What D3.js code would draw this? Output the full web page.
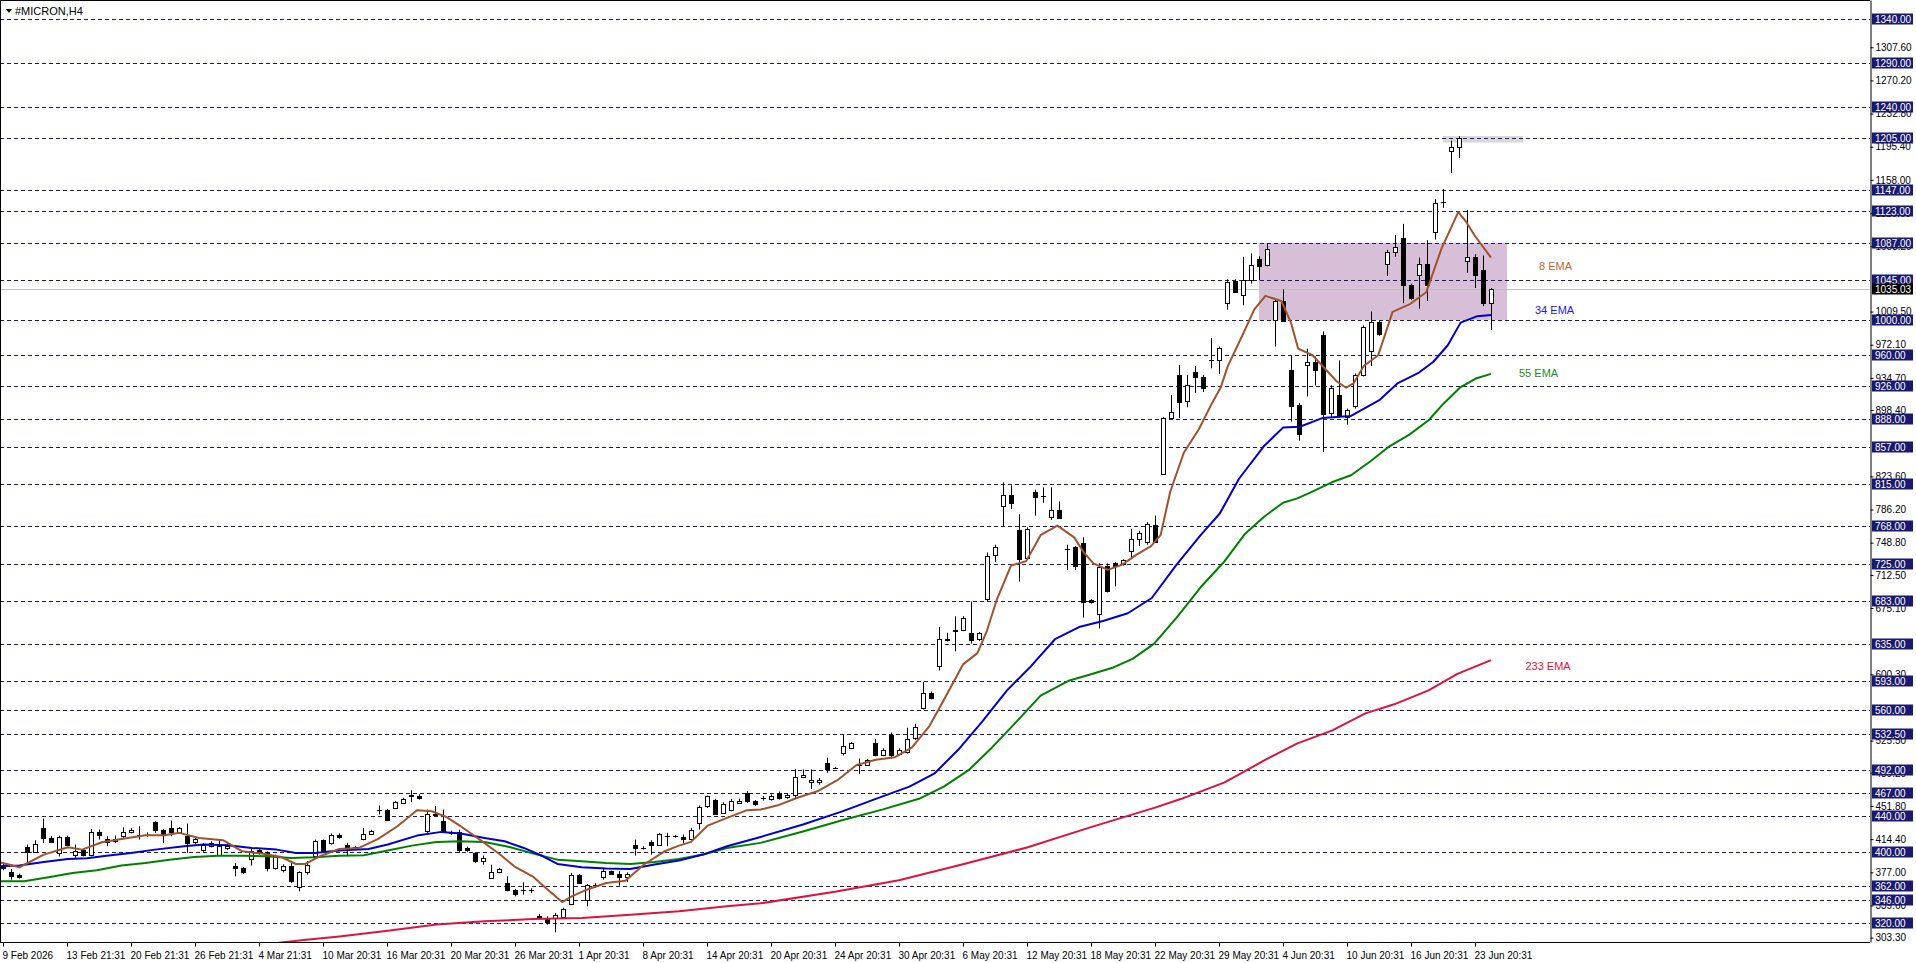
<!DOCTYPE html>
<html>
<head>
<meta charset="utf-8">
<script src="https://cdn.jsdelivr.net/npm/d3@7"></script>
<style>
  body { margin: 0; background: #ffffff; }
  svg { display: block; font-family: "Liberation Sans", Arial, sans-serif; }
</style>
</head>
<body>
<div id="chart"></div>
<script>
// horizontal price levels drawn as dashed lines with a label on the axis
var priceLevels = [1340, 1290, 1240, 1205, 1147, 1123, 1087, 1045, 1000, 960, 926, 888, 857, 815,
                   768, 725, 683, 635, 593, 560, 532.5, 492, 467, 440, 400, 362, 346, 320];

// plain price scale ticks of the terminal (the ones not hidden by level labels)
var axisTicks = [1307.6, 1270.2, 1232.8, 1195.4, 1158.0, 1120.6, 1083.2, 1009.5, 972.1,
                 934.7, 898.4, 823.6, 786.2, 748.8, 712.5, 675.1, 600.3,
                 525.5, 489.2, 451.8, 414.4, 377.0, 339.6, 303.3];

var timeLabels = ["9 Feb 2026", "13 Feb 21:31", "20 Feb 21:31", "26 Feb 21:31", "4 Mar 21:31",
                  "10 Mar 20:31", "16 Mar 20:31", "20 Mar 20:31", "26 Mar 20:31", "1 Apr 20:31",
                  "8 Apr 20:31", "14 Apr 20:31", "20 Apr 20:31", "24 Apr 20:31", "30 Apr 20:31",
                  "6 May 20:31", "12 May 20:31", "18 May 20:31", "22 May 20:31", "29 May 20:31",
                  "4 Jun 20:31", "10 Jun 20:31", "16 Jun 20:31", "23 Jun 20:31"];
var timeLabelBars = [0, 8, 16, 24, 32, 40, 48, 56, 64, 72, 80, 88, 96, 104, 112, 120, 128, 136,
                     144, 152, 160, 168, 176, 184];

// H4 candles, one entry per bar
var opens = [385,377,374.4,405.6,400,427.1,416.2,398.9,416.9,397,401.9,397,422.6,414.7,412,417.7,422.6,418.8,419.2,433.5,
  425.2,427.1,422.6,417.7,410.9,401.9,407.1,397,404.1,384.5,381.9,392.1,402.6,399.6,381.9,379.3,383.8,360.5,377,395.8,
  413.2,410.2,419.6,407.9,405.6,414.7,420.3,447.6,447.8,449.7,455.3,463.5,463.6,423.3,442.2,435.4,421.8,422.6,404.5,398.9,
  389.5,370.6,377,365,357.4,357.3,356.8,328.1,324.3,325.4,326.6,341.6,374,345.4,362.7,371.4,378.2,375.5,371.8,407.9,
  404.5,410.9,407.9,417.7,417.8,416.6,414.7,432.8,451.6,459.1,444.1,447.1,455.3,466.6,457.2,460.5,459.5,466,462,463.8,
  484.3,478.5,478.5,500.5,494.6,511.7,517.6,498.5,498,522.5,509.3,532.3,510.3,512.7,528.4,562.6,579.7,609.5,639,649.7,
  650.6,646.7,639.9,684.9,735.3,790,802.3,763.2,731.3,806.2,801.3,777.8,785.1,741.6,743.6,748.5,683.9,668.3,723,725.5,
  724.5,739.2,752.4,749.9,768.5,826.7,889.3,938.2,908.9,941.7,935.3,954.9,954.4,1018.9,1044.4,1028.7,1044.9,1068.8,1061.5,1000.4,
  1021.4,943.1,904,949,952.9,983.2,895.2,915.2,890.3,903,938.2,965.1,997.9,1063,1076.2,1092.3,1039.5,1050.7,1063,1098.7,
  1132.9,1190.6,1195,1066.4,1071.3,1056.6,1018.9];
var highs = [387.6,380.8,375.5,408.3,413.2,437.6,418,418.4,418.4,408.3,403.4,425.9,425.2,417.7,418.5,427.8,427,429,422,434.6,
  426,435.4,428,432,416,410,412,413.9,410,387.6,383,403.4,404,400.7,397,386,387.6,378,389.5,413.9,
  414,420.7,421,410.2,407,427.1,425,452.3,448.5,457.2,461,469.6,465,447.8,451.6,447.8,424,425.2,406,399.6,
  395.8,385.7,382,372.5,358.2,365.7,359,330,327.3,331.1,337,376.3,375,363.8,365,380.8,379,378.2,377,413.9,
  406.4,413.2,421.5,421.5,419,419.6,427.1,452.3,463.6,459.9,456,459.9,460,468.5,458.5,463,465,468,466,493.2,
  493,493,483.4,506.3,496,532.3,524,505.4,505,527.4,517,534.7,517,540,544.5,591.9,581,653.6,647.2,665.8,
  666,682.4,648,737.7,746.5,816.9,813.5,780.8,766,808.6,811.1,811.1,795.4,746.5,745,754.8,685,725.5,725.5,727,
  730,764.6,762.2,771.9,779.3,890.3,915.2,949,938.2,948,938.2,979.8,970,1045.8,1045.8,1071.3,1075.2,1071.8,1086.4,1022.4,
  1034.6,960.2,906.4,967.6,958.8,987.1,926.5,954.4,900.1,939.7,994,1009.6,999.4,1079.1,1095.7,1108.4,1041,1070.3,1089.9,1136.3,
  1147.6,1202.3,1207.2,1124.1,1074.2,1072.7,1036];
var lows = [379.3,368.7,370,387.6,399,410.2,410,395.1,406.4,393.2,395,395.1,413.9,406.4,410,415.8,421,413.9,417,421.5,
  410.2,417.7,421,398.9,409,400,405,395.1,402,372.5,375,384.5,397,378.1,380,377,365,355.5,374.4,395.1,
  399,408.3,415,395.1,402,413.2,419,442.2,435.4,448.6,454,456.1,459,421.5,440.3,421.5,419,398.9,400,387.6,
  385.7,369.5,376,355.5,349.9,351.8,353.7,324,317.9,309.3,325.5,340.5,364,338.6,359.3,368.7,374,361.9,366,395.8,
  402.6,397,407.1,406.4,416,408.3,413.9,425.2,449.7,442.2,443,445.9,454,455.3,452,458,458,459,460,459.9,
  483.4,471,476,489.2,493.5,508.8,516,488,497,507.8,508,505.4,509,511,526.4,560.6,572,604.7,637.4,626.2,
  649,635,638,682.9,727,767,786.6,704.9,730,779.3,793.9,774.4,775.9,718.1,718.1,664.3,680,652.1,692.7,699.5,
  723,731.9,745,746.5,748.5,826.7,888.3,889.3,901.5,917.7,918.7,945.6,939.2,1011.6,1031.2,1016.5,1041,1044.9,1060.5,970,
  998,885.4,863.9,913.8,926,851.2,889.3,890.3,882,900.1,936.3,948,982.2,1049.7,1071.3,1018.9,1022.4,1012.6,1021.4,1090.8,
  1126.5,1165.7,1182.8,1053.2,1036.1,1015.5,988.6];
var closes = [382,373.3,371.4,400.4,409,415.4,410.9,416.9,408.3,400.7,397,422.2,419.2,410.9,415,422.6,425.2,419.2,419.5,424.5,
  419.6,422.6,427.1,410.2,414.3,408.3,410.2,407.1,406.4,381.9,377,400.7,398.9,381.5,395.1,383.8,367.6,377,385.7,412.4,
  400,419.6,416.6,404.5,403.4,420.3,424.1,447.8,436.5,456.1,459.9,463.7,460.6,442.9,442.4,423.3,421.3,401.9,401.9,389.5,
  393.2,377,380.8,356.7,352.9,357.1,356.6,325.4,320.5,329.2,335.6,374,365,362.3,362.9,378.2,375.5,371.8,375.5,404.1,
  404.6,407.9,420.3,417.9,417.6,414.7,425.2,450.8,462.9,443.3,454.2,457.6,458,457.2,453.5,461,463,461,464,484.3,
  487,481,481,493.2,494.8,519.1,522.5,498,503.9,508.8,515.2,508.8,515.2,527.4,540.6,579.7,573.8,639.9,640,650.2,
  664.3,638.9,646.7,733.8,744.1,802.3,793.9,730.4,764.6,800.3,801.5,785.1,776.8,741.8,723,681.4,681.4,721.6,694.7,723,
  728.9,753.4,759.7,769.5,749.9,889.3,896.7,907.9,927,935.8,923.6,955.4,968.6,1042.4,1032.1,1044.9,1062.5,1060.5,1080.1,1021.4,
  999.4,902.5,871.2,952.9,944.1,894.2,923.6,891.8,898.1,938.2,992,997.9,984.2,1076.2,1082,1040,1025.3,1063,1040,1132.4,
  1133.2,1195,1204.8,1071.3,1050.7,1018.9,1035.03];

// moving averages, as [bar, price]
var ema8 = [[-0.4,388.3],[2.05,382.7],[5.1,397],[8.1,405.3],[9.9,402.6],[12.35,410.9],[14.8,414.7],[17.8,418.8],
  [20.2,418.8],[22.05,421.5],[24.5,415.8],[27.5,413.2],[29.9,400.7],[32.35,398.1],[34.8,394.3],[36.6,386.4],
  [37.8,386.4],[39.6,395.1],[42.05,403.4],[44.5,404.5],[46.9,414.7],[49.3,429],[51.75,447.1],[53.6,445.9],
  [55.4,439.5],[57.2,429],[59.6,413.9],[62.05,397.7],[63.9,383.8],[66.3,371.8],[68.1,357.4],[69.9,343.5],
  [71.1,349.9],[72.96,357.4],[75.4,365],[77.8,367.6],[80.2,386.4],[82.7,400.7],[84.5,407.1],[86,411.3],
  [88.1,429.7],[90.5,438.4],[93,447.1],[94.7,447.8],[97,453],[99.4,461.4],[101.8,468.4],[104.3,480.9],
  [106.7,498],[109.1,503.9],[111.5,506.9],[113.6,517.6],[115.8,542],[117.6,571.4],[120,611.5],[121.8,624.2],
  [123,649.7],[124.2,683.9],[126,723],[127.9,728],[129.7,757.3],[131.8,768],[133.9,754.8],[135.1,737.7],
  [136.3,725.5],[138.1,718.1],[139.9,724],[141.7,735.3],[143.5,745],[144.7,757.3],[145.9,806.2],[147.6,850.2],
  [149.5,877.1],[151,904],[152.2,923.6],[153.1,948],[154.9,982.2],[156.4,1011.6],[157.8,1027.2],[159.8,1021.4],
  [161,996.9],[161.9,967.6],[163.7,960.2],[165.2,945.6],[166.7,930.9],[167.9,923.6],[168.8,928.4],[170.1,948],
  [171.9,960.2],[173.7,1009.1],[175.8,1017.5],[177.9,1031.2],[179.8,1080.1],[181.9,1121.6],[182.8,1111.9],
  [184,1094.7],[186,1070.3]];
var ema34 = [[-0.4,383.8],[2.05,384.6],[5.1,388.7],[8.1,392.1],[10.5,392.8],[12.96,395.8],[16,398.9],[19,402.6],
  [22.65,406.4],[25.1,408.3],[28.1,407.5],[31.1,404.5],[34.2,402.6],[36.6,398.9],[39,398.9],[42.05,401.5],
  [45.7,403.4],[48.1,408.3],[51.75,418.4],[54.8,422.6],[57.2,420.7],[60.2,415.8],[62.7,412],[65.1,404.5],
  [67.5,395.1],[69.3,386.4],[72.35,382.7],[75.4,381.2],[78.4,380.8],[81.45,385.7],[84.5,390.2],[87.5,397],
  [90.5,406.4],[94.7,416.9],[100,431],[105,446],[109.1,459.9],[113.3,473.6],[116.4,488.2],[119.4,515.2],
  [122.4,547],[125.5,582.2],[128.5,609.5],[131.5,639.9],[134.5,653.6],[137.5,660.4],[140.6,669.2],[143.6,686.4],
  [146.6,723],[149.7,757.3],[152.1,781.7],[154.5,820.9],[157.6,857.5],[160,878.6],[162.1,879.5],[164.9,889.3],
  [168.5,891.8],[172.1,909.9],[174.3,928.4],[177,940.7],[178.8,952.9],[180.6,971.5],[182.2,997],[184.3,1004.3],
  [186,1005.7]];
var ema55 = [[-0.4,366.9],[2.65,366.9],[5.7,371.4],[8.7,376.3],[11.75,379.3],[14.8,384.6],[17.8,387.6],[20.8,391.3],
  [23.9,394.3],[26.9,395.8],[29.9,395.8],[32.96,395.1],[36,393.2],[39,394],[42.05,395.8],[45.1,396.2],
  [48.1,401.5],[51.1,407.1],[54.2,411.3],[57.2,412],[60.2,411.3],[63.3,405.6],[66.3,398.1],[69.3,391.3],
  [72.35,389.5],[75.4,387.6],[78.4,386.4],[81.45,388.7],[84.5,392.1],[87.5,397],[90.5,404.5],[94.7,410.2],
  [100,423],[105,436],[110,448],[114.5,459.9],[117.6,473.6],[120.7,492.2],[123.6,517.6],[126.7,547],
  [129.7,576.3],[133.3,593.4],[135.8,599.8],[138.8,608.1],[141.2,617.8],[143.9,635],[146.7,664.3],[149.7,698.5],
  [152.7,727.9],[155.2,758.2],[157.6,777.8],[160,793.9],[161.8,798.8],[163.6,806.2],[166.1,816.9],[168.5,824.8],
  [170.9,840.4],[173.3,857.5],[175.8,870.7],[178.2,886.9],[180,905],[182.1,923.6],[184.2,934.3],[186,939.2]];
var ema233 = [[33,296],[37.9,301],[42.05,304.7],[48.1,311.1],[54.2,318.1],[60.2,321.7],[66.3,324.3],[72.35,325.4],
  [78.4,329.2],[84.5,333],[90.5,338.6],[94.7,342],[104,355],[112,368],[120,386],[128,405],[136,428],[144,450],
  [147.3,459.9],[152.7,478.5],[157.6,502.9],[161.8,522.5],[166.1,536.8],[170.3,556.3],[173.9,566.5],[178.2,582.2],
  [181.8,600.9],[186,616.4]];

var currentPrice = 1035.03;

// rectangle objects: [fromBar, toBar, lowPrice, highPrice]
var zoneBox = [157, 188, 1000, 1087];
var topBox = [180, 190, 1200, 1207.5];

var emaLabels = [
  { text: "8 EMA", bar: 192, price: 1061, color: "#c0652e" },
  { text: "34 EMA", bar: 191.5, price: 1011, color: "#1c1ce0" },
  { text: "55 EMA", bar: 189.5, price: 940, color: "#1e8a1e" },
  { text: "233 EMA", bar: 190.3, price: 610, color: "#dc143c" }
];

var width = 1916;
var height = 963;
var plotRight = 1870;
var plotBottom = 942;
var levelColor = "#191970";

var svg = d3.select("#chart")
  .append("svg")
  .attr("width", width)
  .attr("height", height);

var x = d3.scaleLinear().domain([-0.375, 233.375]).range([0, plotRight]);
var y = d3.scaleLinear().domain([298.4, 1360.9]).range([plotBottom, 0]);

svg.append("clipPath")
  .attr("id", "plotClip")
  .append("rect")
  .attr("x", 0).attr("y", 0)
  .attr("width", plotRight).attr("height", plotBottom);

var plot = svg.append("g").attr("clip-path", "url(#plotClip)");

// rectangle objects in the background
[zoneBox, topBox].forEach(function(b, k) {
  plot.append("rect")
    .attr("x", x(b[0]))
    .attr("y", y(b[3]))
    .attr("width", x(b[1]) - x(b[0]))
    .attr("height", y(b[2]) - y(b[3]))
    .attr("fill", k == 0 ? "#d8bfd8" : "#d9d9d9");
});

// dashed horizontal levels
plot.selectAll(".level")
  .data(priceLevels)
  .enter().append("line")
  .attr("class", "level")
  .attr("x1", 0)
  .attr("x2", plotRight)
  .attr("y1", function(d) { return Math.round(y(d)) + 0.5; })
  .attr("y2", function(d) { return Math.round(y(d)) + 0.5; })
  .attr("stroke", levelColor)
  .attr("stroke-width", 1)
  .attr("stroke-dasharray", "4,3");

// bid line
plot.append("line")
  .attr("x1", 0)
  .attr("x2", plotRight)
  .attr("y1", Math.round(y(currentPrice)) + 0.5)
  .attr("y2", Math.round(y(currentPrice)) + 0.5)
  .attr("stroke", "#c0c0c0")
  .attr("stroke-width", 1);

// candles
var bars = d3.range(opens.length);
var candles = plot.selectAll(".candle")
  .data(bars)
  .enter().append("g")
  .attr("class", "candle");

candles.append("line")
  .attr("x1", function(i) { return Math.round(x(i)) + 0.5; })
  .attr("x2", function(i) { return Math.round(x(i)) + 0.5; })
  .attr("y1", function(i) { return y(highs[i]); })
  .attr("y2", function(i) { return y(lows[i]); })
  .attr("stroke", "#000")
  .attr("stroke-width", 1);

candles.append("rect")
  .attr("x", function(i) { return Math.round(x(i)) - 1.5; })
  .attr("width", 4)
  .attr("y", function(i) { return Math.round(y(Math.max(opens[i], closes[i]))) + 0.5; })
  .attr("height", function(i) {
    return Math.max(0.01, Math.round(y(Math.min(opens[i], closes[i]))) - Math.round(y(Math.max(opens[i], closes[i]))));
  })
  .attr("fill", function(i) { return closes[i] >= opens[i] ? "#ffffff" : "#000000"; })
  .attr("stroke", "#000")
  .attr("stroke-width", 1);

// moving averages
var line = d3.line()
  .x(function(d) { return x(d[0]); })
  .y(function(d) { return y(d[1]); });

var emaLines = [
  { values: ema233, color: "#dc143c", w: 2 },
  { values: ema55, color: "#008000", w: 2 },
  { values: ema34, color: "#0000cd", w: 2 },
  { values: ema8, color: "#a0522d", w: 2 }
];

plot.selectAll(".ema")
  .data(emaLines)
  .enter().append("path")
  .attr("class", "ema")
  .attr("d", function(d) { return line(d.values); })
  .attr("fill", "none")
  .attr("stroke", function(d) { return d.color; })
  .attr("stroke-width", function(d) { return d.w; })
  .attr("stroke-linejoin", "round");

plot.selectAll(".emaLabel")
  .data(emaLabels)
  .enter().append("text")
  .attr("class", "emaLabel")
  .attr("x", function(d) { return x(d.bar); })
  .attr("y", function(d) { return y(d.price); })
  .attr("dy", "0.35em")
  .attr("fill", function(d) { return d.color; })
  .style("font-size", "11px")
  .text(function(d) { return d.text; });

// frame
svg.append("line")
  .attr("x1", 0.5).attr("x2", 0.5)
  .attr("y1", 0).attr("y2", plotBottom)
  .attr("stroke", "#000");
svg.append("line")
  .attr("x1", 0).attr("x2", plotRight)
  .attr("y1", 0.5).attr("y2", 0.5)
  .attr("stroke", "#000");

// price axis
var yAxis = d3.axisRight(y)
  .tickValues(axisTicks)
  .tickSize(3)
  .tickSizeOuter(0)
  .tickPadding(2)
  .tickFormat(d3.format(".2f"));

var yAxisG = svg.append("g")
  .attr("class", "yAxis")
  .attr("transform", "translate(" + (plotRight + 0.5) + ",0)")
  .call(yAxis);
yAxisG.selectAll("text").style("font-size", "10px").attr("fill", "#000");
yAxisG.select(".domain").attr("stroke", "#000");

// time axis
var xAxis = d3.axisBottom(x)
  .tickValues(timeLabelBars)
  .tickSize(4)
  .tickSizeOuter(0)
  .tickFormat(function(d, i) { return timeLabels[i]; });

var xAxisG = svg.append("g")
  .attr("class", "xAxis")
  .attr("transform", "translate(0," + (plotBottom + 0.5) + ")")
  .call(xAxis);
xAxisG.select(".domain").attr("d", "M0,0H" + plotRight).attr("stroke", "#000");
xAxisG.selectAll("text")
  .style("font-size", "10px")
  .style("text-anchor", "start")
  .attr("fill", "#000")
  .attr("dx", "-1")
  .attr("y", 9);

// level labels on the axis
var levelTags = svg.selectAll(".levelTag")
  .data(priceLevels)
  .enter().append("g")
  .attr("class", "levelTag")
  .attr("transform", function(d) { return "translate(" + (plotRight + 2) + "," + Math.round(y(d)) + ")"; });
levelTags.append("rect")
  .attr("x", 0).attr("y", -5.5)
  .attr("width", 41).attr("height", 11)
  .attr("fill", levelColor);
levelTags.append("text")
  .attr("x", 3).attr("y", 0).attr("dy", "0.35em")
  .attr("fill", "#fff")
  .style("font-size", "10px")
  .text(function(d) { return d3.format(".2f")(d); });

var bidTag = svg.append("g")
  .attr("transform", "translate(" + (plotRight + 2) + "," + Math.round(y(currentPrice)) + ")");
bidTag.append("rect")
  .attr("x", 0).attr("y", -5.5)
  .attr("width", 41).attr("height", 11)
  .attr("fill", "#000");
bidTag.append("text")
  .attr("x", 3).attr("dy", "0.35em")
  .attr("fill", "#fff")
  .style("font-size", "10px")
  .text(d3.format(".2f")(currentPrice));

// title
svg.append("path")
  .attr("d", "M6,9L12,9L9,13Z")
  .attr("fill", "#000");
svg.append("text")
  .attr("x", 15)
  .attr("y", 15)
  .style("font-size", "11px")
  .attr("fill", "#000")
  .text("#MICRON,H4");
</script>
</body>
</html>
